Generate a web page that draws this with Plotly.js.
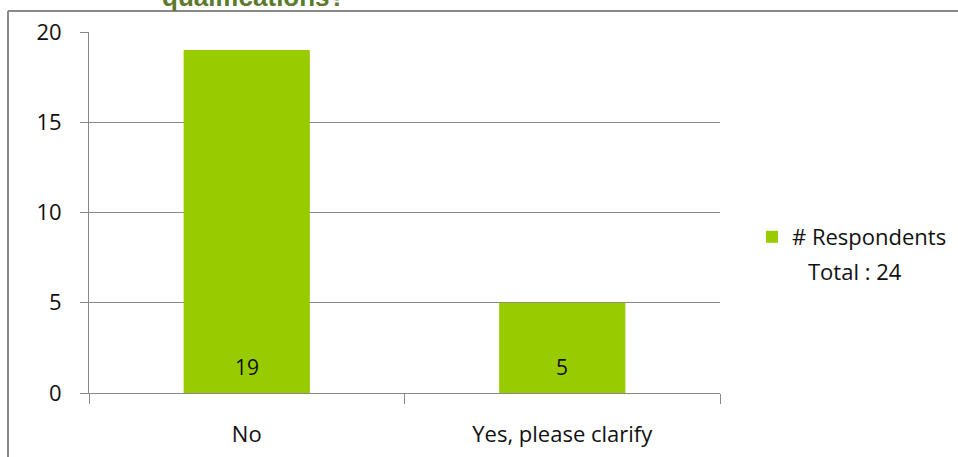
<!DOCTYPE html>
<html><head><meta charset="utf-8">
<script src="https://cdn.plot.ly/plotly-3.0.1.min.js"></script>
<style>html,body{margin:0;padding:0;background:#fff;}#chart{width:958px;height:457px;}</style>
</head><body><div id="chart"></div>
<script>
var categories = ["No", "Yes, please clarify"];
var respondents = [19, 5];
var seriesName = "# Respondents";
var totalLabel = "Total : 24";
var titleText = "qualifications?";
var yTicks = [0, 5, 10, 15, 20];

var W = 958, H = 457;
var m = {l: 89, r: 238, t: 32, b: 64, autoexpand: false};
var pw = W - m.l - m.r, ph = H - m.t - m.b;
function px(x){ return (x - m.l) / pw; }
function py(y){ return (H - m.b - y) / ph; }

var font = "'Open Sans', sans-serif";
var green = "#99cc00";

var trace = {
  type: "bar", x: categories, y: respondents, name: seriesName,
  marker: {color: green, line: {width: 0}},
  showlegend: true, hoverinfo: "none"
};

var annotations = categories.map(function(c, i){
  return {x: c, y: 0, xref: "x", yref: "y", yshift: 26, text: String(respondents[i]),
    showarrow: false, font: {family: font, size: 21, color: "#111"}};
});
annotations.push({x: px(855), y: py(271), xref: "paper", yref: "paper", xanchor: "center", yanchor: "middle",
  text: totalLabel, showarrow: false, font: {family: font, size: 22, color: "#111"}});
annotations.push({x: px(253), y: py(14), xref: "paper", yref: "paper", xanchor: "center", yanchor: "bottom",
  text: "<b>" + titleText + "</b>", showarrow: false,
  font: {family: "'Liberation Sans', Arial, sans-serif", size: 26, color: "#5b7a2c"}});

var layout = {
  width: W, height: H, margin: m,
  paper_bgcolor: "#fff", plot_bgcolor: "#fff",
  bargap: 0.6, showlegend: true,
  xaxis: {type: "category", showline: true, linecolor: "#888", linewidth: 1,
    ticks: "outside", tickson: "boundaries", ticklen: 10, tickcolor: "#888",
    showgrid: false, zeroline: false, automargin: false,
    tickfont: {family: font, size: 22, color: "#111"}, ticklabelstandoff: 22},
  yaxis: {range: [0, 20], tickvals: yTicks, showline: true, linecolor: "#888", linewidth: 1,
    ticks: "outside", ticklen: 8, tickcolor: "#888", automargin: false,
    showgrid: true, gridcolor: "#888", gridwidth: 1, zeroline: false,
    tickfont: {family: font, size: 22, color: "#111"}, ticklabelstandoff: 14},
  legend: {x: px(752), y: py(237), xanchor: "left", yanchor: "middle",
    font: {family: font, size: 22, color: "#111"}, bgcolor: "rgba(0,0,0,0)"},
  annotations: annotations,
  shapes: [
    {type: "line", xref: "paper", yref: "paper", x0: px(8), x1: px(958), y0: py(11), y1: py(11),
      line: {color: "#888", width: 2}},
    {type: "line", xref: "paper", yref: "paper", x0: px(8), x1: px(8), y0: py(11), y1: py(460),
      line: {color: "#888", width: 2}}
  ]
};

Plotly.newPlot("chart", [trace], layout, {displayModeBar: false, staticPlot: true});
</script></body></html>
